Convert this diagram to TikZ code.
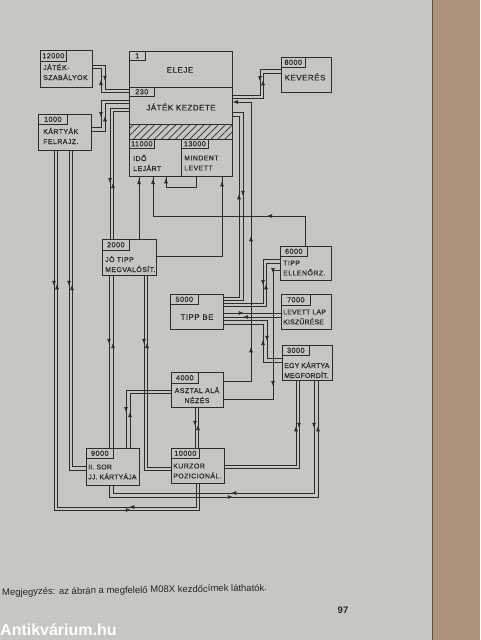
\documentclass[tikz,border=0pt]{standalone}
\usepackage{fontspec}
\setmainfont{Liberation Sans}
\newfontfamily\boxfont[LetterSpace=6, FakeBold=0.8]{Liberation Sans}
\newfontfamily\tightfont[LetterSpace=2, FakeBold=0.8]{Liberation Sans}
\usepackage{xcolor}
\usepackage{tikz}
\usetikzlibrary{arrows.meta, decorations.markings, patterns.meta}

\definecolor{pagegray}{RGB}{198,199,193}
\definecolor{spine}{RGB}{172,146,122}
\definecolor{ink}{RGB}{45,45,45}

\begin{document}
\begin{tikzpicture}[
  x=1pt, y=-1pt,
  box/.style={draw=ink, line width=0.75pt, anchor=north west, inner sep=0pt},
  tag/.style={draw=ink, line width=0.6pt, anchor=north west, inner sep=0pt, text=ink, font=\boxfont\fontsize{7.3}{8}\selectfont},
  txt/.style={text=ink, font=\boxfont\fontsize{7}{10}\selectfont, align=left, inner sep=0pt, anchor=west},
  tighttxt/.style={txt, font=\tightfont\fontsize{7}{10}\selectfont},
  ctxt/.style={txt, anchor=center, align=center},
  bigtxt/.style={ctxt, font=\boxfont\fontsize{8}{10}\selectfont},
  wire/.style={draw=ink, line width=0.6pt},
  mk/.style={postaction={decorate}, decoration={markings, mark=at position #1 with {\arrow{Latex[length=5pt,width=4pt]}}}},
  mkk/.style 2 args={postaction={decorate}, decoration={markings,
      mark=at position #1 with {\arrow{Latex[length=5pt,width=4pt]}},
      mark=at position #2 with {\arrow{Latex[length=5pt,width=4pt]}}}}
]

% page and book edge
\useasboundingbox (0,0) rectangle (480,640);
\fill[pagegray] (0,0) rectangle (480,640);
\fill[spine] (432,0) rectangle (480,640);
\draw[spine!55!black, line width=1pt] (432,0) -- (432,640);

% left blocks
\node[box, minimum width=52pt, minimum height=37pt] (sz) at (40,50) {};
\node[tag, minimum width=26pt, minimum height=11pt] (sztag) at (sz.north west) {12000};
\node[txt] (sztext) at (43,72) {JÁTÉK-\\SZABÁLYOK};

\node[box, minimum width=53pt, minimum height=36pt] (kf) at (38,114) {};
\node[tag, minimum width=29pt, minimum height=10pt] (kftag) at (kf.north west) {1000};
\node[txt] (kftext) at (43,136) {KÁRTYÁK\\FELRAJZ.};

% main block
\node[box, minimum width=103pt, minimum height=36pt] (eleje) at (129,51) {};
\node[tag, minimum width=16pt, minimum height=9pt] (elejetag) at (eleje.north west) {1};
\node[bigtxt] (elejetext) at (180,70) {ELEJE};
\node[box, minimum width=103pt, minimum height=37pt] (kezd) at (129,87) {};
\node[tag, minimum width=25pt, minimum height=9pt] (kezdtag) at (kezd.north west) {230};
\node[bigtxt] (kezdtext) at (181,107) {JÁTÉK KEZDETE};
\node[box, minimum width=103pt, minimum height=15pt, pattern={Lines[angle=45,distance=5pt,line width=0.7pt]}, pattern color=ink] (hatchbar) at (129,124) {};
\node[box, minimum width=52pt, minimum height=37pt] (ido) at (129,139) {};
\node[tag, minimum width=25pt, minimum height=9pt] (idotag) at (ido.north west) {11000};
\node[txt] (idotext) at (133,163) {IDŐ\\LEJÁRT};
\node[box, minimum width=51pt, minimum height=37pt] (mind) at (181,139) {};
\node[tag, minimum width=27pt, minimum height=9pt] (mindtag) at (mind.north west) {13000};
\node[txt] (mindtext) at (184,163) {MINDENT\\LEVETT};

\node[box, minimum width=50pt, minimum height=35pt] (kev) at (281,57) {};
\node[tag, minimum width=24pt, minimum height=10pt] (kevtag) at (kev.north west) {8000};
\node[bigtxt] (kevtext) at (305,77) {KEVERÉS};

% middle blocks
\node[box, minimum width=54pt, minimum height=36pt] (jo) at (102,239) {};
\node[tag, minimum width=27pt, minimum height=11pt] (jotag) at (jo.north west) {2000};
\node[txt] (jotext) at (105,264) {JÓ TIPP\\MEGVALÓSÍT.};

\node[box, minimum width=51pt, minimum height=34pt] (ell) at (280,246) {};
\node[tag, minimum width=27pt, minimum height=10pt] (elltag) at (ell.north west) {6000};
\node[txt] (elltext) at (283,268) {TIPP\\ELLENŐRZ.};

\node[box, minimum width=53pt, minimum height=35pt] (be) at (170,294) {};
\node[tag, minimum width=28pt, minimum height=10pt] (betag) at (be.north west) {5000};
\node[bigtxt] (betext) at (197,317) {TIPP BE};

\node[box, minimum width=50pt, minimum height=35pt] (lev) at (281,294) {};
\node[tag, minimum width=29pt, minimum height=11pt] (levtag) at (lev.north west) {7000};
\node[tighttxt] (levtext) at (283,317) {LEVETT LAP\\KISZŰRÉSE};

\node[box, minimum width=50pt, minimum height=35pt] (egy) at (282,345) {};
\node[tag, minimum width=27pt, minimum height=10pt] (egytag) at (egy.north west) {3000};
\node[tighttxt] (egytext) at (284,370) {EGY KÁRTYA\\MEGFORDÍT.};

\node[box, minimum width=52pt, minimum height=35pt] (asz) at (171,372) {};
\node[tag, minimum width=27pt, minimum height=11pt] (asztag) at (asz.north west) {4000};
\node[ctxt] (asztext) at (197,395) {ASZTAL ALÁ\\NÉZÉS};

% bottom blocks
\node[box, minimum width=53pt, minimum height=37pt] (sor) at (86,448) {};
\node[tag, minimum width=27pt, minimum height=10pt] (sortag) at (sor.north west) {9000};
\node[tighttxt] (sortext) at (88,472) {II. SOR\\JJ. KÁRTYÁJA};

\node[box, minimum width=53pt, minimum height=35pt] (kur) at (171,448) {};
\node[tag, minimum width=28pt, minimum height=10pt] (kurtag) at (kur.north west) {10000};
\node[txt] (kurtext) at (173,471) {KURZOR\\POZICIONÁL.};

% wires round the main block
\draw[wire, mk=28pt] (sz.east |- 0,65) -| (105,89) -- (kezd.west |- 0,89);
\draw[wire, mk=40pt] (kezd.west |- 0,92) -| (101,68) -- (sz.east |- 0,68);
\draw[wire, mk=28pt] (kf.east |- 0,131) -| (105,103) -- (kezd.west |- 0,103);
\draw[wire, mk=45pt] (kezd.west |- 0,100) -| (101,127) -- (kf.east |- 0,127);
\draw[wire, mk=94pt] (kezd.west |- 0,108) -| (jo.north -| 110,0);
\draw[wire, mk=56pt] (jo.north -| 113,0) |- (kezd.west |- 0,111);
\draw[wire, mk=60pt] (jo.north -| 139,0) -- (ido.south -| 139,0);
\draw[wire, mk=140pt] (jo.east |- 0,256) -| (mind.south -| 222,0);
\draw[wire, mk=49pt] (mind.south -| 196,0) |- (166,187) -- (ido.south -| 166,0);
\draw[wire, mkk={68pt}{219pt}] (ell.north -| 305,0) |- (153,216) -- (ido.south -| 153,0);
\draw[wire, mk=33pt] (kev.west |- 0,69) -| (260,95) -- (kezd.east |- 0,95);
\draw[wire, mk=48pt] (kezd.east |- 0,98) -| (263,73) -- (kev.west |- 0,73);
\draw[wire, mkk={61pt}{172pt}, -{Latex[length=5pt,width=4pt]}] (asz.east |- 0,381) -| (251,102) -- (kezd.east |- 0,102);
\draw[wire, mk=94pt] (kezd.east |- 0,112) -| (243,300) -- (be.east |- 0,300);
\draw[wire, mk=118pt] (be.east |- 0,297) -| (239,116) -- (kezd.east |- 0,116);

% wires round 5000
\draw[wire, mk=43pt] (ell.west |- 0,259) -| (263,303) -- (be.east |- 0,303);
\draw[wire, mk=64pt] (be.east |- 0,306) -| (266,263) -- (ell.west |- 0,263);
\draw[wire, mk=20pt] (be.east |- 0,313) -- (lev.west |- 0,313);
\draw[wire, mk=38pt] (lev.west |- 0,317) -- (be.east |- 0,317);
\draw[wire, mk=64pt] (be.east |- 0,320) -| (267,358) -- (egy.west |- 0,358);
\draw[wire, mk=41pt] (egy.west |- 0,362) -| (263,324) -- (be.east |- 0,324);
\draw[wire, mkk={10pt}{123pt}] (ell.west |- 0,270) -| (273,399) -- (asz.east |- 0,399);

% wires to the bottom blocks
\draw[wire, mk=67pt] (asz.west |- 0,390) -| (sor.north -| 126,0);
\draw[wire, mk=36pt] (sor.north -| 130,0) |- (asz.west |- 0,393);
\draw[wire, mk=18pt] (asz.south -| 195,0) -- (kur.north -| 195,0);
\draw[wire, mk=23pt] (kur.north -| 198,0) -- (asz.south -| 198,0);
\draw[wire, mk=68pt] (jo.south -| 109,0) -- (sor.north -| 109,0);
\draw[wire, mk=105pt] (sor.north -| 113,0) -- (jo.south -| 113,0);
\draw[wire, mk=68pt] (jo.south -| 144,0) |- (kur.west |- 0,470);
\draw[wire, mk=148pt] (kur.west |- 0,467) -| (jo.south -| 147,0);
\draw[wire, mk=135pt] (kf.south -| 69,0) |- (sor.west |- 0,470);
\draw[wire, mk=195pt] (sor.west |- 0,466) -| (kf.south -| 72,0);
\draw[wire, mkk={135pt}{436pt}] (kf.south -| 54,0) |- (199,510) -- (kur.south -| 199,0);
\draw[wire, mkk={90pt}{385pt}] (kur.south -| 196,0) |- (57,507) -- (kf.south -| 57,0);
\draw[wire, mkk={135pt}{291pt}] (sor.south -| 109,0) |- (318,497) -- (egy.south -| 318,0);
\draw[wire, mkk={47pt}{195pt}] (egy.south -| 314,0) |- (113,493) -- (sor.south -| 113,0);
\draw[wire, mk=110pt] (kur.east |- 0,465) -| (egy.south -| 296,0);
\draw[wire, mk=47pt] (egy.south -| 299,0) |- (kur.east |- 0,468);

% page text
\node[anchor=west, inner sep=0pt, rotate=1, text=black!85, font=\fontsize{9.5}{11}\selectfont] (note) at (2,593) {Megjegyzés: az ábrán a megfelelő M08X kezdőcímek láthatók.};
\node[inner sep=0pt, text=black!85, font=\bfseries\fontsize{9.5}{11}\selectfont] (pageno) at (343,610) {97};
\node[anchor=west, inner sep=0pt, text=white, font=\bfseries\fontsize{16}{18}\selectfont] (stamp) at (0,630) {Antikvárium.hu};

\end{tikzpicture}
\end{document}
